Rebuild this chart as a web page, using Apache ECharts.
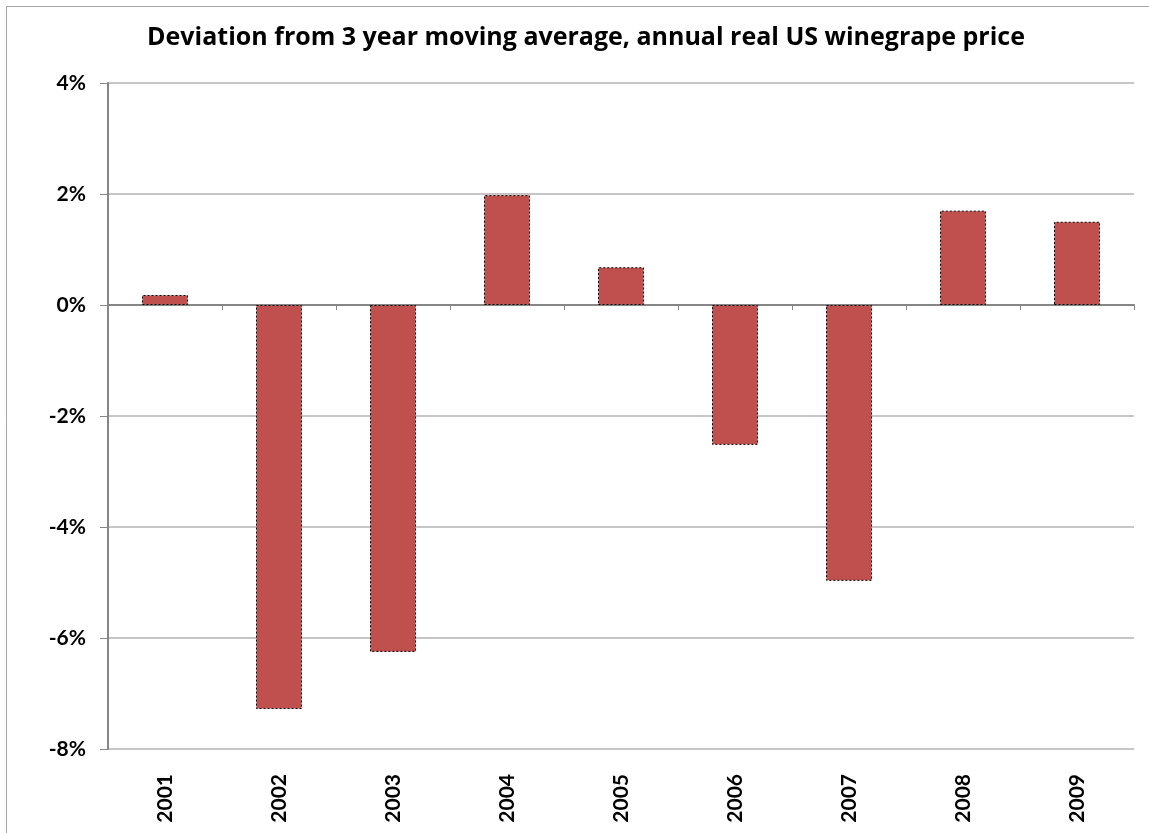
<!DOCTYPE html>
<html>
<head>
<meta charset="utf-8">
<script src="https://cdn.jsdelivr.net/npm/echarts@6/dist/echarts.min.js"></script>
<style>html,body{margin:0;padding:0;background:#fff}#c{width:1149px;height:833px}</style>
</head>
<body>
<div id="c"></div>
<script>
const titleText = 'Deviation from 3 year moving average, annual real US winegrape price';
const years = ['2001','2002','2003','2004','2005','2006','2007','2008','2009'];
const deviation = [0.18, -7.28, -6.25, 1.98, 0.68, -2.52, -4.97, 1.70, 1.50];
const yMin = -8, yMax = 4, yStep = 2;

const FONT = 'Lato, "Open Sans", sans-serif';
const chart = echarts.init(document.getElementById('c'), null, {renderer: 'canvas'});
chart.setOption({
  animation: false,
  backgroundColor: '#fff',
  graphic: [{
    type: 'rect', silent: true,
    shape: {x: 6.5, y: 6.5, width: 1300, height: 1000},
    style: {fill: 'none', stroke: '#a6a6a6', lineWidth: 1}
  }],
  title: {
    text: titleText, left: 581, textAlign: 'center', top: 20,
    textStyle: {fontFamily: '"Open Sans", sans-serif', fontWeight: 'bold', fontSize: 25, color: '#000'}
  },
  grid: {left: 108, right: 15, top: 83, bottom: 84, containLabel: false},
  xAxis: [{
    type: 'category', data: years, position: 'bottom',
    axisLine: {show: true, onZero: true, lineStyle: {color: '#868686', width: 2}},
    axisTick: {show: true, length: 5, inside: false, alignWithLabel: false, lineStyle: {color: '#868686', width: 1}},
    axisLabel: {show: false},
    splitLine: {show: false}
  }, {
    type: 'category', data: years, position: 'bottom',
    axisLine: {show: false, onZero: false},
    axisTick: {show: false},
    axisLabel: {show: true, rotate: 90, margin: 25, fontFamily: FONT, fontWeight: 'bold', fontSize: 21, color: '#000'},
    splitLine: {show: false}
  }],
  yAxis: {
    type: 'value', min: yMin, max: yMax, interval: yStep,
    axisLine: {show: true, lineStyle: {color: '#868686', width: 2}},
    axisTick: {show: true, length: 8, lineStyle: {color: '#868686', width: 1}},
    axisLabel: {formatter: '{value}%', margin: 22, fontFamily: FONT, fontWeight: 'bold', fontSize: 21, color: '#000'},
    splitLine: {show: true, lineStyle: {color: '#b3b3b3', width: 1.5}}
  },
  series: [{
    type: 'bar', xAxisIndex: 0, data: deviation, barWidth: 46,
    itemStyle: {color: '#C0504D', borderColor: '#000', borderWidth: 1, borderType: [2, 2]}
  }]
});
</script>
</body>
</html>
